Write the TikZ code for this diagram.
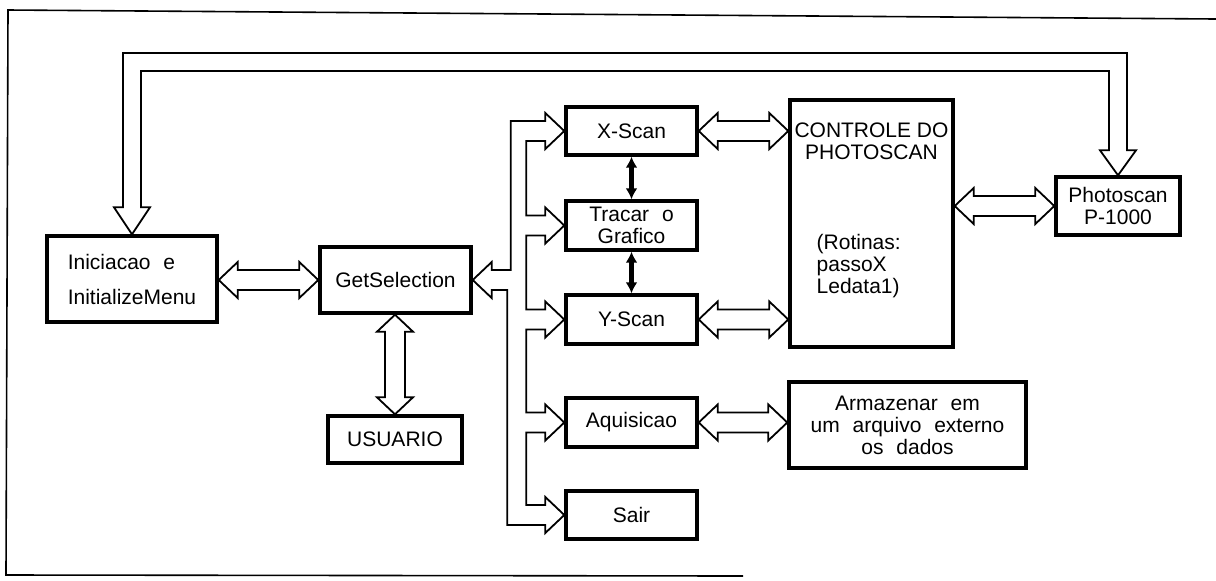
\documentclass[tikz,border=0pt]{standalone}
\usepackage{fontspec}
\setmainfont{Liberation Sans}[WordSpace=2.2]
\newfontfamily\capfont{Liberation Sans}
\usetikzlibrary{calc,arrows.meta}
\newcommand\hdarr[2]{\draw[conn] (#1) -- ++(19,-18) -- ++(0,8) -- ($(#2)+(-19,-10)$) -- ++(0,-8) -- (#2) -- ++(-19,18) -- ++(0,-8) -- ($(#1)+(19,10)$) -- ++(0,8) -- cycle;}
\begin{document}
\begin{tikzpicture}[x=0.5pt,y=-0.5pt,
  box/.style={draw,line width=1.7pt,inner sep=0pt,align=center,font=\fontsize{10.5}{11}\selectfont},
  txt/.style={inner sep=0pt,font=\fontsize{10.5}{11}\selectfont},
  capstxt/.style={font=\capfont\fontsize{10.5}{11}\selectfont},
  conn/.style={draw,line width=0.9pt,line join=miter},
  boldarr/.style={line width=2.3pt,{Latex[length=5.5pt,width=6pt]}-{Latex[length=5.5pt,width=6pt]}},
  frameline/.style={line width=0.8pt},
  tap/.style={insert path={|- ($(#1.west)+(-19,-10)$) -- ++(0,-8) -- (#1.west) -- ++(-19,18) -- ++(0,-8) -- ++(-19,0)}}]
\useasboundingbox[fill=white] (0,0) rectangle (1216,580);

% frame
\draw[frameline] (1216,19) -- (8,10) -- (6,575) -- (743,576);

% boxes
\node[box,minimum width=85pt,minimum height=43pt,align=left] (ini) at (132,279) {Iniciacao e\\[6.5pt]InitializeMenu};
\node[box,minimum width=75.5pt,minimum height=33pt] (gs) at (395.5,280) {GetSelection};
\node[box,capstxt,minimum width=67pt,minimum height=23.5pt] (usr) at (395,439.5) {USUARIO};
\node[box,minimum width=65.5pt,minimum height=24pt] (xs) at (631.5,131) {X-Scan};
\node[box,minimum width=65.5pt,minimum height=24.5pt] (tr) at (631.5,225.5) {Tracar o\\Grafico};
\node[box,minimum width=65.5pt,minimum height=24.5pt] (ys) at (631.5,319.5) {Y-Scan};
\node[box,minimum width=65.5pt,minimum height=24.5pt] (aq) at (631.5,422.5) {Aquisicao};
\node[box,minimum width=65.5pt,minimum height=24pt] (sa) at (631.5,515) {Sair};
\node[box,minimum width=81.5pt,minimum height=123.5pt] (ctl) at (871.5,223.5) {};
\node[txt,capstxt,align=center] (ctlT) at ($(ctl.north)+(0,43)$) {CONTROLE DO\\PHOTOSCAN};
\node[txt,align=left,anchor=west] (ctlR) at ($(ctl.west)+(28,43)$) {(Rotinas:\\passoX\\Ledata1)};
\node[box,minimum width=62pt,minimum height=29pt] (ph) at (1118,206) {Photoscan\\P-1000};
\node[box,minimum width=118.5pt,minimum height=43pt] (arm) at (907.5,425) {Armazenar em\\um arquivo externo\\os dados};

% helper coordinates
\coordinate (p1) at (ini.east |- gs.west);
\coordinate (p2) at (ctl.west |- xs.east);
\coordinate (p3) at (ctl.west |- ys.east);
\coordinate (p4) at (ctl.east |- ph.west);
\coordinate (p5) at (arm.west |- aq.east);
\coordinate (p6) at (usr.north |- gs.south);
\coordinate (topO) at (0,53);
\coordinate (topI) at (0,71);
\coordinate (q1) at (ph.north |- topO);
\coordinate (q2) at (ini.north |- topI);

% hollow double arrows
\hdarr{p1}{gs.west}
\hdarr{xs.east}{p2}
\hdarr{ys.east}{p3}
\hdarr{p4}{ph.west}
\hdarr{aq.east}{p5}

% GetSelection <-> USUARIO
\draw[conn] (p6) -- ++(-18,17) -- ++(8,0) -- ($(usr.north)+(-10,-17)$) -- ++(-8,0) -- (usr.north) -- ++(18,-17) -- ++(-8,0) -- ($(p6)+(10,17)$) -- ++(8,0) -- cycle;

% bus from GetSelection to the menu boxes
\draw[conn] (gs.east) -- ++(19,-18) -- ++(0,8) -- ++(19,0) [tap=xs] [tap=tr] [tap=ys] [tap=aq]
  |- ($(sa.west)+(-19,-10)$) -- ++(0,-8) -- (sa.west) -- ++(-19,18) -- ++(0,-8) -- ++(-38,0)
  |- ($(gs.east)+(19,10)$) -- ++(0,8) -- cycle;

% feedback arrow across the top
\draw[conn] (ini.north) -- ++(-18,-27) -- ++(9,0) |- ($(q1)+(9,0)$) -- ($(ph.north)+(9,-25)$) -- ++(9,0) -- (ph.north)
  -- ++(-18,-25) -- ++(9,0) |- ($(q2)+(9,0)$) -- ($(ini.north)+(9,-27)$) -- ++(9,0) -- cycle;

% solid double arrows
\draw[boldarr] (xs.south) -- (tr.north);
\draw[boldarr] (tr.south) -- (ys.north);
\end{tikzpicture}
\end{document}
